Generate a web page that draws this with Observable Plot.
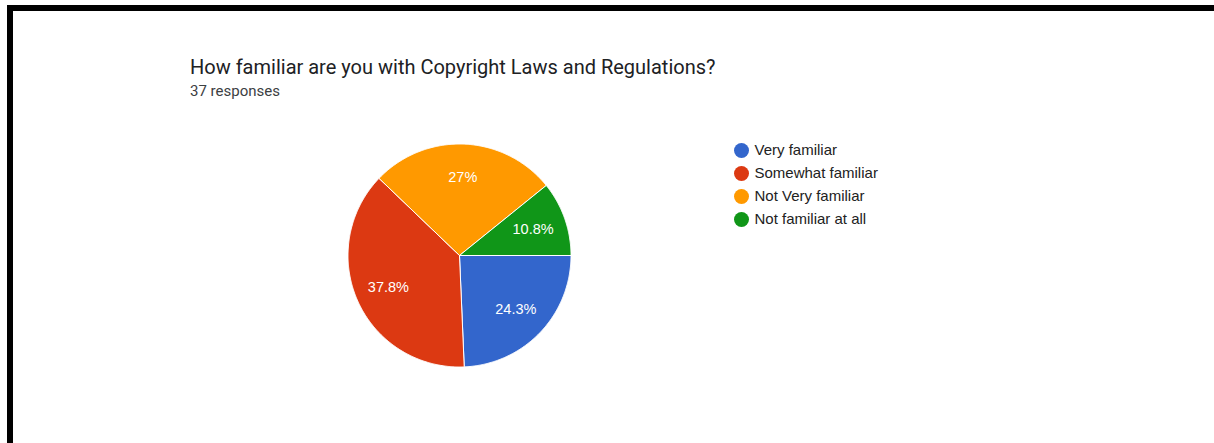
<!DOCTYPE html>
<html>
<head>
<meta charset="utf-8">
<script src="https://cdn.jsdelivr.net/npm/d3@7"></script>
<script src="https://cdn.jsdelivr.net/npm/@observablehq/plot@0.6"></script>
<style>
  html, body { margin: 0; padding: 0; background: #fff; }
  #page { position: relative; width: 1214px; height: 443px; overflow: hidden; background: #fff; }
  .bar { position: absolute; background: #000; }
  #title { position: absolute; left: 190px; top: 56.5px; font: 20px/20px Roboto, sans-serif; color: #202124; white-space: nowrap; }
  #subtitle { position: absolute; left: 190px; top: 84px; font: 15px/15px Roboto, sans-serif; color: #3c4043; white-space: nowrap; }
  #pie { position: absolute; left: 338.5px; top: 135px; }
  #legend { position: absolute; left: 728px; top: 135.5px; }
</style>
</head>
<body>
<div id="page">
  <div class="bar" style="left:7px; top:5px; width:1207px; height:6px;"></div>
  <div class="bar" style="left:7px; top:5px; width:6px; height:438px;"></div>
  <div id="title">How familiar are you with Copyright Laws and Regulations?</div>
  <div id="subtitle">37 responses</div>
  <div id="pie"></div>
  <div id="legend"></div>
</div>
<script>
const categories = ["Very familiar", "Somewhat familiar", "Not Very familiar", "Not familiar at all"];
const counts = [9, 14, 10, 4];
const colors = ["#3366cc", "#dc3912", "#ff9900", "#109618"];

const total = d3.sum(counts);
const fmt = d3.format(".3~r");

// Build slice outlines (angles measured clockwise from 3 o'clock)
const slicePts = [];
const labelRows = [];
let a = 0;
categories.forEach((c, i) => {
  const span = counts[i] / total * 2 * Math.PI;
  const a0 = a, a1 = a + span;
  slicePts.push({category: c, x: 0, y: 0});
  const n = Math.max(2, Math.ceil(span / (Math.PI / 360)));
  for (let k = 0; k <= n; k++) {
    const t = a0 + (a1 - a0) * k / n;
    slicePts.push({category: c, x: Math.cos(t), y: Math.sin(t)});
  }
  slicePts.push({category: c, x: 0, y: 0});
  const mid = (a0 + a1) / 2;
  labelRows.push({category: c, x: 0.7 * Math.cos(mid), y: 0.7 * Math.sin(mid), text: fmt(counts[i] / total * 100) + "%"});
  a = a1;
});

const pie = Plot.plot({
  width: 240, height: 240, margin: 0,
  style: {background: "transparent", fontFamily: "'Liberation Sans', Arial, sans-serif"},
  x: {domain: [-1, 1], range: [8.5, 231.5], axis: null},
  y: {domain: [-1, 1], range: [8.5, 231.5], axis: null},
  color: {domain: categories, range: colors},
  marks: [
    Plot.line(slicePts, {x: "x", y: "y", z: "category", fill: "category", stroke: "white", strokeWidth: 1, curve: "linear"}),
    Plot.text(labelRows, {x: "x", y: "y", text: "text", fill: "white", fontSize: 14.5})
  ]
});
document.getElementById("pie").appendChild(pie);

const legend = Plot.plot({
  width: 200, height: 100, margin: 0,
  style: {background: "transparent", fontFamily: "'Liberation Sans', Arial, sans-serif"},
  x: {domain: [0, 1], range: [13, 26], axis: null},
  y: {type: "point", domain: categories, range: [13, 84], padding: 0, axis: null},
  color: {domain: categories, range: colors},
  marks: [
    Plot.dot(categories, {x: () => 0, y: d => d, r: 7.5, fill: d => d, stroke: null}),
    Plot.text(categories, {x: () => 1, y: d => d, text: d => d, textAnchor: "start", fontSize: 15, fill: "#222"})
  ]
});
document.getElementById("legend").appendChild(legend);
</script>
</body>
</html>
